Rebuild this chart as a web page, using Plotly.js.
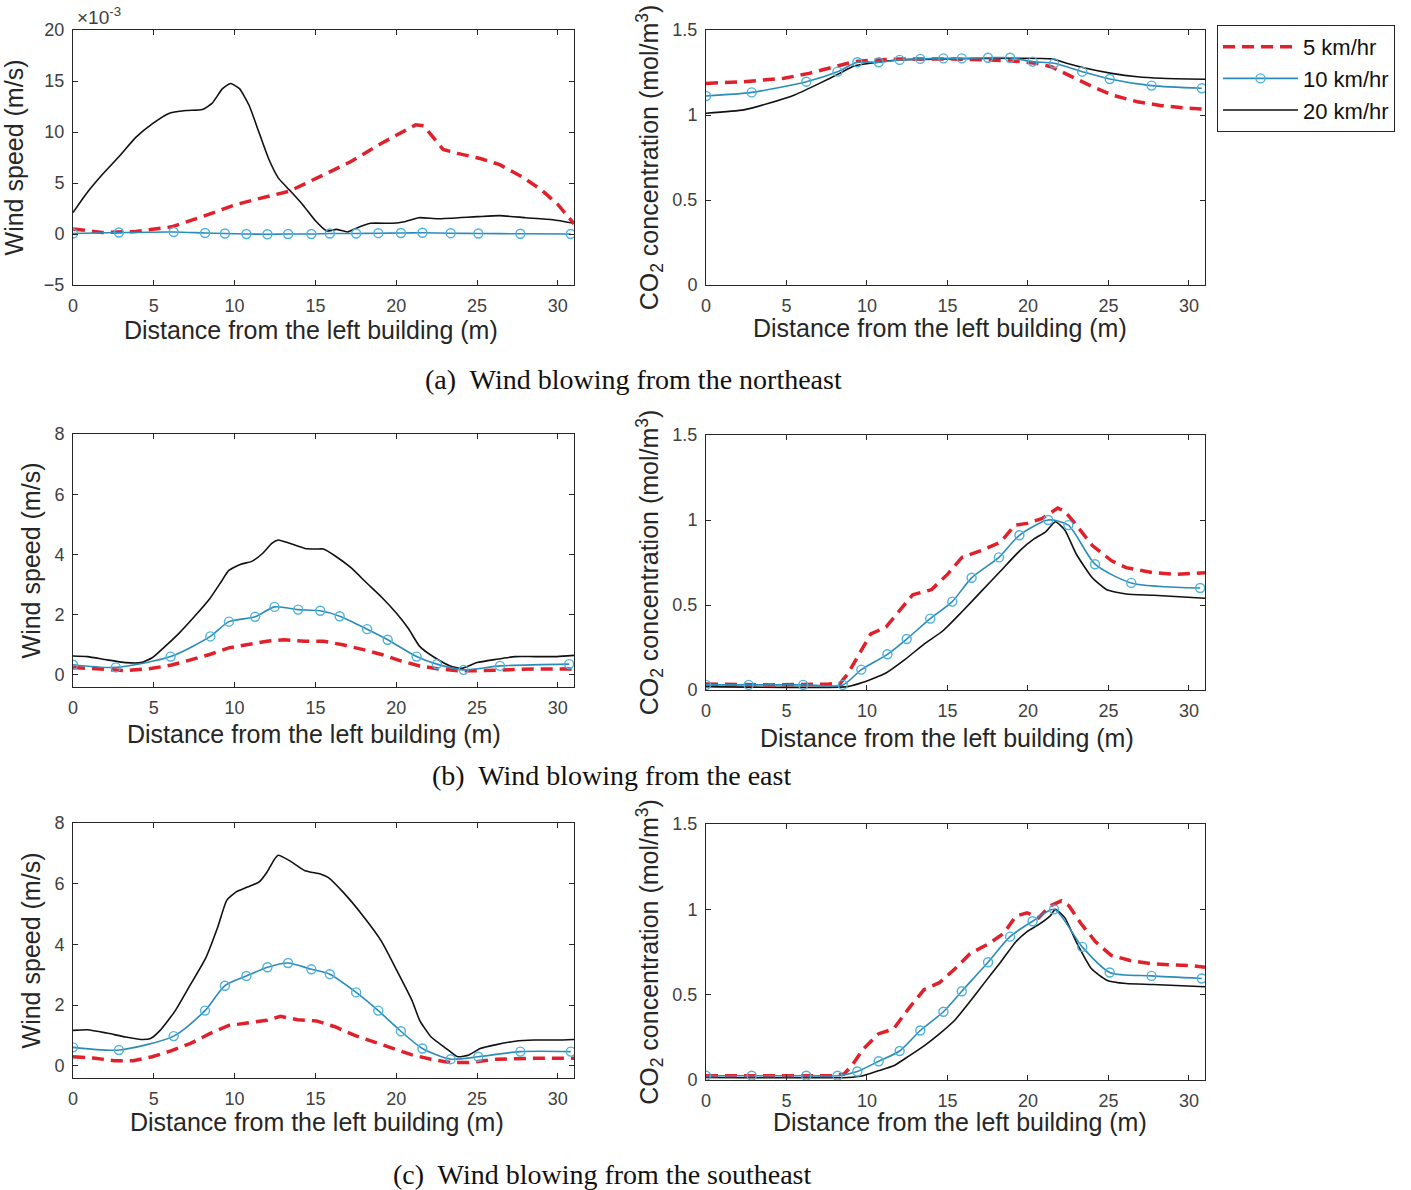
<!DOCTYPE html>
<html>
<head>
<meta charset="utf-8">
<script src="https://cdn.plot.ly/plotly-3.0.1.min.js"></script>
<style>html,body{margin:0;padding:0;background:#fff;}#chart{width:1411px;height:1190px;}</style>
</head>
<body>
<div id="chart"></div>
<script>
// ---------------- DATA ----------------
const seriesNames = ["5 km/hr", "10 km/hr", "20 km/hr"];
const captions = ["(a)\u00a0 Wind blowing from the northeast", "(b)\u00a0 Wind blowing from the east", "(c)\u00a0 Wind blowing from the southeast"];
const xTitle = "Distance from the left building (m)";
const windTitle = "Wind speed (m/s)";
const co2Title = "CO<sub>2</sub> concentration (mol/m<sup>3</sup>)";
const xTicks = [0, 5, 10, 15, 20, 25, 30];
const yTicksWindA = [-5, 0, 5, 10, 15, 20];
const yTicksWindBC = [0, 2, 4, 6, 8];
const yTicksCO2 = [0, 0.5, 1, 1.5];

// marker grids of the 10 km/hr series
const gridAC = [0, 2.84, 6.23, 8.17, 9.40, 10.73, 12.03, 13.31, 14.75, 15.89, 17.52, 18.89, 20.29, 21.62, 23.37, 25.08, 27.68, 30.8];
const gridB = [0, 2.65, 6.04, 8.5, 9.65, 11.27, 12.47, 13.93, 15.3, 16.5, 18.2, 19.47, 21.26, 22.51, 24.17, 26.42, 30.7];

// (a) northeast, wind speed (x10^-3 m/s)
const aWind5x = [0, 1.8, 3.9, 6.1, 8, 10.1, 12.1, 13.4, 15.5, 17.2, 19.1, 20.5, 21.2, 21.7, 22.9, 23.8, 25.2, 26.4, 27.8, 29, 30, 31];
const aWind5y = [0.5, 0.15, 0.25, 0.7, 1.7, 2.9, 3.7, 4.2, 5.8, 7.1, 8.9, 10.1, 10.7, 10.6, 8.3, 7.9, 7.4, 6.8, 5.6, 4.3, 2.9, 1.0];
const aWind10y = [0.05, 0.15, 0.2, 0.1, 0.05, 0.0, -0.02, 0.0, 0.0, 0.05, 0.05, 0.08, 0.1, 0.12, 0.08, 0.05, 0.02, 0.0];
const aWind20x = [0, 0.8, 1.8, 2.85, 3.9, 4.9, 5.9, 7, 8, 8.6, 9.25, 9.75, 10.3, 10.9, 11.5, 12.1, 12.7, 13.4, 14.2, 15, 15.7, 16.3, 17, 17.5, 18.4, 19.8, 20.5, 21.4, 22.6, 25, 26.4, 28, 29.7, 31];
const aWind20y = [2.1, 3.9, 5.8, 7.6, 9.5, 10.8, 11.8, 12.1, 12.2, 12.8, 14.25, 14.75, 14.25, 12.6, 10.0, 7.4, 5.5, 4.3, 2.9, 1.3, 0.3, 0.45, 0.2, 0.55, 1.05, 1.05, 1.2, 1.6, 1.5, 1.7, 1.8, 1.6, 1.4, 1.05];

// (a) northeast, CO2 concentration (mol/m3)
const aCO25x = [0, 2.35, 4.85, 6.4, 8, 9.2, 10.5, 12.05, 14.9, 17.7, 19.6, 20.5, 21.45, 22.7, 24, 25.2, 26.8, 28.3, 29.9, 31];
const aCO25y = [1.186, 1.196, 1.216, 1.245, 1.284, 1.314, 1.324, 1.33, 1.33, 1.324, 1.314, 1.304, 1.284, 1.225, 1.167, 1.118, 1.078, 1.055, 1.04, 1.035];
const aCO210y = [1.112, 1.133, 1.196, 1.255, 1.31, 1.31, 1.324, 1.33, 1.333, 1.333, 1.337, 1.337, 1.314, 1.304, 1.255, 1.212, 1.173, 1.157];
const aCO220x = [0, 2.35, 3.9, 5.5, 7.05, 8.3, 9.2, 10.2, 11.7, 14.9, 21.5, 22.4, 23.6, 25.2, 26.8, 28.3, 31];
const aCO220y = [1.01, 1.03, 1.069, 1.118, 1.186, 1.245, 1.288, 1.304, 1.322, 1.33, 1.33, 1.304, 1.275, 1.245, 1.225, 1.216, 1.21];

// (b) east, wind speed (m/s)
const bWind5x = [0, 1.37, 3.26, 4.9, 6.1, 7.28, 8.46, 9.64, 10.8, 12, 13.06, 14.36, 15.5, 16.7, 17.9, 19.1, 20.27, 21.45, 22.63, 23.8, 25, 26.2, 28.5, 31];
const bWind5y = [0.25, 0.2, 0.14, 0.22, 0.33, 0.5, 0.68, 0.9, 1.0, 1.12, 1.17, 1.12, 1.12, 1.0, 0.85, 0.68, 0.47, 0.3, 0.2, 0.14, 0.14, 0.17, 0.2, 0.2];
const bWind10y = [0.34, 0.25, 0.61, 1.28, 1.77, 1.93, 2.26, 2.17, 2.13, 1.95, 1.52, 1.17, 0.61, 0.36, 0.17, 0.3, 0.36];
const bWind20x = [0, 0.9, 2.1, 3.26, 4.2, 4.9, 5.6, 6.57, 7.5, 8.46, 9.2, 9.64, 10.35, 11.06, 11.76, 12.3, 12.7, 13.4, 14.36, 15.07, 15.5, 16.25, 17.2, 18.14, 19.1, 20.03, 20.74, 21.45, 22.4, 23.34, 24.05, 25, 26.2, 27.36, 28.54, 29.95, 31];
const bWind20y = [0.63, 0.61, 0.5, 0.41, 0.41, 0.57, 0.9, 1.39, 1.93, 2.53, 3.12, 3.47, 3.67, 3.77, 4.05, 4.37, 4.48, 4.37, 4.2, 4.18, 4.18, 3.94, 3.56, 3.07, 2.58, 2.04, 1.55, 0.95, 0.57, 0.3, 0.22, 0.41, 0.52, 0.61, 0.61, 0.61, 0.65];

// (b) east, CO2 concentration (mol/m3)
const bCO25x = [0, 4.07, 7.63, 8.34, 8.8, 9.5, 10.24, 11.18, 12.13, 12.84, 14, 15, 15.9, 17.1, 18.3, 19.2, 19.95, 20.9, 21.85, 22.3, 23, 24, 25.2, 26.1, 27.8, 29.2, 31];
const bCO25y = [0.035, 0.03, 0.035, 0.04, 0.094, 0.21, 0.33, 0.37, 0.48, 0.56, 0.59, 0.68, 0.78, 0.82, 0.87, 0.97, 0.98, 1.01, 1.07, 1.05, 0.97, 0.85, 0.76, 0.72, 0.69, 0.68, 0.69];
const bCO210y = [0.03, 0.03, 0.03, 0.03, 0.12, 0.21, 0.3, 0.42, 0.52, 0.66, 0.78, 0.91, 1.0, 0.97, 0.74, 0.63, 0.6];
const bCO220x = [0, 8.8, 9.76, 11.18, 12.37, 13.55, 14.74, 15.9, 17.1, 18.3, 19.5, 20.4, 21.1, 21.7, 22.3, 23, 24, 24.9, 26.1, 27.8, 31];
const bCO220y = [0.02, 0.02, 0.045, 0.1, 0.18, 0.27, 0.35, 0.46, 0.58, 0.7, 0.82, 0.89, 0.93, 0.99, 0.94, 0.8, 0.66, 0.59, 0.565, 0.557, 0.54];

// (c) southeast, wind speed (m/s)
const cWind5x = [0, 1.37, 2.55, 3.73, 4.9, 6.1, 7.28, 8.46, 9.64, 10.8, 12, 12.83, 13.9, 15.07, 16.25, 17.4, 18.6, 19.8, 20.98, 22.16, 23.34, 24.5, 26.2, 28.54, 31];
const cWind5y = [0.3, 0.25, 0.17, 0.17, 0.3, 0.5, 0.74, 1.06, 1.33, 1.41, 1.5, 1.63, 1.52, 1.48, 1.28, 1.01, 0.79, 0.57, 0.36, 0.22, 0.11, 0.11, 0.22, 0.25, 0.25];
const cWind10y = [0.61, 0.52, 0.98, 1.82, 2.64, 2.96, 3.25, 3.39, 3.18, 3.02, 2.42, 1.82, 1.14, 0.57, 0.22, 0.3, 0.47, 0.47];
const cWind20x = [0, 0.9, 2.08, 3.26, 4.2, 4.8, 5.39, 6.33, 7.28, 8.22, 8.93, 9.52, 10.1, 10.8, 11.5, 12, 12.47, 12.7, 13.4, 14.36, 15.3, 15.78, 16.7, 17.9, 19.09, 20, 20.98, 21.45, 22.16, 23.1, 23.8, 24.5, 25.2, 26.2, 27.36, 28.54, 29.95, 31];
const cWind20y = [1.17, 1.19, 1.08, 0.95, 0.87, 0.9, 1.17, 1.82, 2.69, 3.56, 4.53, 5.46, 5.73, 5.89, 6.05, 6.38, 6.81, 6.94, 6.76, 6.43, 6.32, 6.21, 5.73, 4.97, 4.1, 3.18, 2.15, 1.5, 0.95, 0.57, 0.3, 0.36, 0.57, 0.7, 0.81, 0.85, 0.85, 0.87];

// (c) southeast, CO2 concentration (mol/m3)
const cCO25x = [0, 7.87, 8.58, 9.05, 9.76, 10.7, 11.66, 12.6, 13.55, 14.5, 15.45, 16.4, 17.6, 18.5, 19.25, 19.95, 20.66, 21.37, 22.08, 22.56, 23.27, 24.2, 25.17, 26.35, 27.77, 30.14, 31];
const cCO25y = [0.025, 0.025, 0.035, 0.083, 0.18, 0.27, 0.3, 0.42, 0.53, 0.57, 0.65, 0.74, 0.8, 0.86, 0.96, 0.98, 0.95, 1.02, 1.05, 1.02, 0.92, 0.81, 0.73, 0.7, 0.68, 0.67, 0.66];
const cCO210y = [0.025, 0.025, 0.025, 0.025, 0.05, 0.11, 0.17, 0.29, 0.4, 0.52, 0.69, 0.84, 0.93, 1.0, 0.78, 0.63, 0.61, 0.595];
const cCO220x = [0, 8.8, 9.76, 10.7, 11.66, 12.6, 13.55, 14.5, 15.45, 16.4, 17.34, 18.3, 19.25, 19.95, 20.66, 21.37, 21.7, 22.3, 23, 23.97, 24.9, 26.1, 27.77, 31];
const cCO220y = [0.015, 0.015, 0.025, 0.054, 0.083, 0.14, 0.2, 0.27, 0.35, 0.46, 0.575, 0.69, 0.81, 0.87, 0.91, 0.96, 1.0, 0.95, 0.81, 0.65, 0.585, 0.565, 0.56, 0.546];

// ---------------- STYLE / BUILD ----------------
const W = 1411, H = 1190;
const RED = '#e0202a', BLUE = '#2b8bb9', BLUEM = '#4bb2e0', BLACK = '#111111';
const sans = 'Liberation Sans, Arial, sans-serif';
const serif = 'Liberation Serif, Times New Roman, serif';

function red(x, y, ax, show) {
  return {x: x, y: y, xaxis: 'x' + ax, yaxis: 'y' + ax, name: seriesNames[0], legendrank: 1, showlegend: show,
    mode: 'lines', line: {color: RED, width: 3.5, dash: '12px,7px'}, hoverinfo: 'x+y'};
}
function blue(x, y, ax, show) {
  return {x: x, y: y, xaxis: 'x' + ax, yaxis: 'y' + ax, name: seriesNames[1], legendrank: 2, showlegend: show,
    mode: 'lines+markers', line: {color: BLUE, width: 1.6, shape: 'spline', smoothing: 0.7},
    marker: {symbol: 'circle-open', size: 9, color: BLUEM, line: {width: 1.4, color: BLUEM}}, hoverinfo: 'x+y'};
}
function black(x, y, ax, show) {
  return {x: x, y: y, xaxis: 'x' + ax, yaxis: 'y' + ax, name: seriesNames[2], legendrank: 3, showlegend: show,
    mode: 'lines', line: {color: BLACK, width: 1.6, shape: 'spline', smoothing: 0.5}, hoverinfo: 'x+y'};
}

const data = [
  black(aWind20x, aWind20y, '', true), red(aWind5x, aWind5y, '', true), blue(gridAC, aWind10y, '', true),
  black(aCO220x, aCO220y, '2', false), red(aCO25x, aCO25y, '2', false), blue(gridAC, aCO210y, '2', false),
  black(bWind20x, bWind20y, '3', false), red(bWind5x, bWind5y, '3', false), blue(gridB, bWind10y, '3', false),
  black(bCO220x, bCO220y, '4', false), red(bCO25x, bCO25y, '4', false), blue(gridB, bCO210y, '4', false),
  black(cWind20x, cWind20y, '5', false), red(cWind5x, cWind5y, '5', false), blue(gridAC, cWind10y, '5', false),
  black(cCO220x, cCO220y, '6', false), red(cCO25x, cCO25y, '6', false), blue(gridAC, cCO210y, '6', false)
];

const tickFont = {family: sans, size: 18, color: '#404040'};
const titleFont = {family: sans, size: 25, color: '#262626'};
function xa(dom, anchor) {
  return {domain: [dom[0] / W, dom[1] / W], anchor: anchor, range: [0, 31], tickvals: xTicks,
    showline: true, mirror: 'ticks', linecolor: '#262626', linewidth: 1, ticks: 'inside', ticklen: 5, tickcolor: '#262626',
    showgrid: false, zeroline: false, tickfont: tickFont, ticklabelstandoff: 4};
}
function ya(top, bottom, anchor, range, ticks, title, standoff) {
  return {domain: [1 - bottom / H, 1 - top / H], anchor: anchor, range: range, tickvals: ticks,
    showline: true, mirror: 'ticks', linecolor: '#262626', linewidth: 1, ticks: 'inside', ticklen: 5, tickcolor: '#262626',
    showgrid: false, zeroline: false, tickfont: tickFont, ticklabelstandoff: 4,
    title: {text: title, font: titleFont, standoff: standoff}};
}
function paperText(text, px, py, font, anchor) {
  return {text: text, xref: 'paper', yref: 'paper', x: px / W, y: 1 - py / H, xanchor: anchor || 'center', yanchor: 'middle',
    showarrow: false, font: font};
}
const capFont = {family: serif, size: 28, color: '#111'};

const layout = {
  width: W, height: H, margin: {l: 0, r: 0, t: 0, b: 0}, paper_bgcolor: '#fff', plot_bgcolor: '#fff',
  font: {family: sans, color: '#262626'},
  xaxis: xa([73, 574], 'y'), yaxis: ya(30, 285, 'x', [-5, 20], yTicksWindA, windTitle, 13),
  xaxis2: xa([706, 1205], 'y2'), yaxis2: ya(30, 285, 'x2', [0, 1.5], yTicksCO2, co2Title, 6),
  xaxis3: xa([73, 574], 'y3'), yaxis3: ya(434, 687, 'x3', [-0.4, 8], yTicksWindBC, windTitle, 6),
  xaxis4: xa([706, 1205], 'y4'), yaxis4: ya(435, 690, 'x4', [0, 1.5], yTicksCO2, co2Title, 6),
  xaxis5: xa([73, 574], 'y5'), yaxis5: ya(823, 1078, 'x5', [-0.4, 8], yTicksWindBC, windTitle, 6),
  xaxis6: xa([706, 1205], 'y6'), yaxis6: ya(824, 1080, 'x6', [0, 1.5], yTicksCO2, co2Title, 6),
  showlegend: true,
  legend: {x: 1217 / W, y: 1 - 25 / H, xanchor: 'left', yanchor: 'top', bgcolor: '#fff', bordercolor: '#262626', borderwidth: 1,
    font: {family: sans, size: 22, color: '#111'}, itemwidth: 75, entrywidth: 198, entrywidthmode: 'pixels',
    traceorder: 'normal', tracegroupgap: 0},
  annotations: [
    paperText('\u00d710<sup>-3</sup>', 75, 16, {family: sans, size: 19, color: '#404040'}, 'left'),
    paperText(xTitle, 311, 330, titleFont), paperText(xTitle, 940, 328, titleFont),
    paperText(xTitle, 314, 734, titleFont), paperText(xTitle, 947, 738, titleFont),
    paperText(xTitle, 317, 1122, titleFont), paperText(xTitle, 960, 1122, titleFont),
    paperText(captions[0], 633, 380, capFont), paperText(captions[1], 611, 775, capFont), paperText(captions[2], 602, 1174, capFont)
  ]
};

Plotly.newPlot('chart', data, layout, {displayModeBar: false, staticPlot: true});
</script>
</body>
</html>
